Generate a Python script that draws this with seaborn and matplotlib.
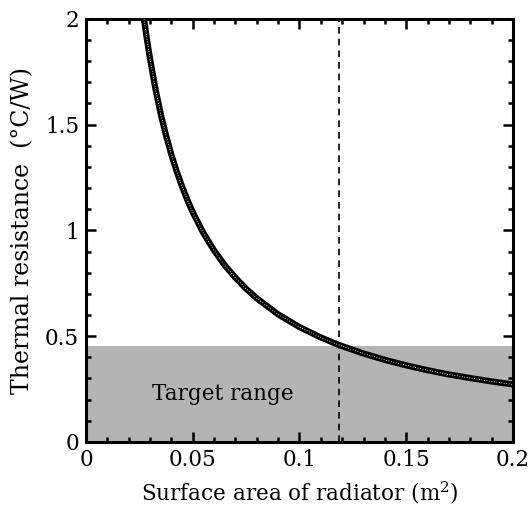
import numpy as np
import pandas as pd
import matplotlib
matplotlib.use("Agg")
import matplotlib.pyplot as plt
from matplotlib.ticker import MultipleLocator
import seaborn as sns

# --- DATA ---
area = [0.027, 0.0285, 0.030, 0.0325, 0.035, 0.0375, 0.040, 0.0425, 0.045, 0.0475,
        0.050, 0.055, 0.060, 0.065, 0.070, 0.075, 0.080, 0.090, 0.100, 0.110,
        0.118, 0.130, 0.140, 0.150, 0.160, 0.170, 0.180, 0.190, 0.200]
resistance = [2.01, 1.905, 1.81, 1.67, 1.55, 1.448, 1.357, 1.278, 1.207, 1.143,
              1.086, 0.987, 0.905, 0.835, 0.776, 0.724, 0.679, 0.603, 0.543, 0.494,
              0.460, 0.418, 0.388, 0.362, 0.339, 0.319, 0.302, 0.286, 0.272]
target_max = 0.455
design_area = 0.1185

x_ticks = [0, 0.05, 0.1, 0.15, 0.2]
x_ticklabels = ["0", "0.05", "0.1", "0.15", "0.2"]
y_ticks = [0, 0.5, 1, 1.5, 2]
y_ticklabels = ["0", "0.5", "1", "1.5", "2"]

df = pd.DataFrame({"area": area, "resistance": resistance})

sns.set_style("ticks")
plt.rcParams["font.family"] = ["DejaVu Serif"]
plt.rcParams["mathtext.fontset"] = "dejavuserif"
plt.rcParams["text.color"] = "black"
plt.rcParams["axes.labelcolor"] = "black"
plt.rcParams["xtick.color"] = "black"
plt.rcParams["ytick.color"] = "black"

fig = plt.figure(figsize=(5.31, 5.08), dpi=100)
ax = fig.add_axes([0.162, 0.130, 0.804, 0.833])

ax.axhspan(0, target_max, color="#b4b4b5", lw=0, zorder=0)
ax.axvline(design_area, color="black", ls=(0, (4, 3)), lw=1.2, zorder=2)

sns.lineplot(data=df, x="area", y="resistance", ax=ax, color="black", lw=4.5,
             solid_capstyle="butt", zorder=3)
sns.lineplot(data=df, x="area", y="resistance", ax=ax, color="white", lw=0.6,
             ls=(0, (1, 2)), zorder=4)

ax.text(0.031, 0.225, "Target range", fontsize=15.5, va="center", ha="left")

ax.set_xlim(0, 0.2)
ax.set_ylim(0, 2)
ax.set_xticks(x_ticks)
ax.set_xticklabels(x_ticklabels)
ax.set_yticks(y_ticks)
ax.set_yticklabels(y_ticklabels)
ax.xaxis.set_minor_locator(MultipleLocator(0.01))
ax.yaxis.set_minor_locator(MultipleLocator(0.1))
ax.tick_params(which="both", direction="in", top=True, right=True, width=1.8,
               labelsize=15.5, pad=5)
ax.tick_params(which="major", length=7)
ax.tick_params(which="minor", length=3.5)
for s in ax.spines.values():
    s.set_linewidth(2.2)
    s.set_color("black")

ax.set_xlabel("Surface area of radiator (m$^2$)", fontsize=15.5, labelpad=6)
ax.set_ylabel("Thermal resistance  (°C/W)", fontsize=17, labelpad=8)

fig.savefig("out.png", dpi=100)
